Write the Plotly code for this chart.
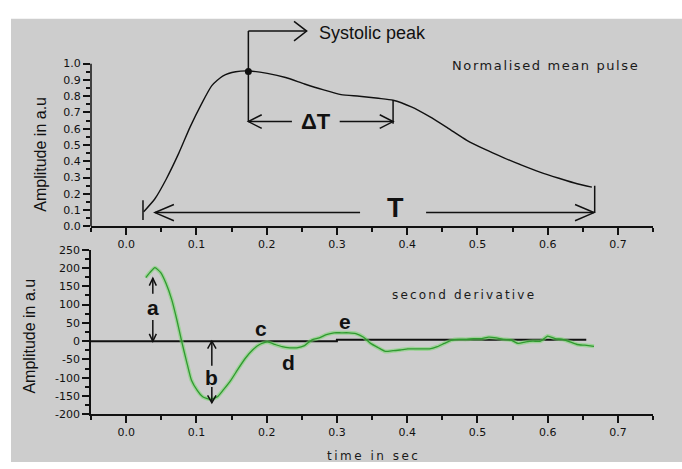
import plotly.graph_objects as go

W, H = 682, 469

# ---------------- data ----------------
pulse_time = [0.025, 0.041, 0.057, 0.075, 0.091, 0.107, 0.122, 0.138, 0.156, 0.175,
              0.201, 0.227, 0.254, 0.280, 0.306, 0.332, 0.359, 0.380, 0.406, 0.432,
              0.458, 0.485, 0.511, 0.537, 0.563, 0.590, 0.616, 0.642, 0.663]
pulse_amp = [0.09, 0.17, 0.29, 0.45, 0.61, 0.75, 0.865, 0.925, 0.950, 0.955,
             0.940, 0.915, 0.875, 0.840, 0.810, 0.800, 0.787, 0.775, 0.734, 0.674,
             0.604, 0.529, 0.473, 0.423, 0.376, 0.332, 0.296, 0.262, 0.241]
peak_time = [0.174]
peak_amp = [0.952]

deriv_time = [0.028, 0.034, 0.041, 0.049, 0.057, 0.065, 0.072, 0.079, 0.086, 0.093,
              0.101, 0.109, 0.120, 0.130, 0.138, 0.149, 0.159, 0.170, 0.180, 0.190,
              0.201, 0.212, 0.222, 0.233, 0.243, 0.254, 0.264, 0.275, 0.285, 0.296,
              0.306, 0.317, 0.327, 0.338, 0.348, 0.359, 0.369, 0.380, 0.390, 0.401,
              0.411, 0.422, 0.432, 0.443, 0.453, 0.464, 0.474, 0.485, 0.495, 0.506,
              0.516, 0.527, 0.537, 0.548, 0.558, 0.569, 0.579, 0.590, 0.600, 0.611,
              0.621, 0.632, 0.642, 0.653, 0.666]
deriv_amp = [174, 188, 201, 188, 157, 113, 60, 0, -55, -107,
             -134, -152, -159, -152, -134, -107, -77, -46, -24, -9,
             -2, -9, -15, -18, -18, -12, 3, 9, 18, 23,
             23, 23, 21, 11, -6, -18, -28, -26, -24, -21,
             -21, -21, -21, -15, -6, 3, 5, 5, 7, 7,
             11, 9, 5, 3, -6, -2, 0, 0, 14, 7,
             5, -2, -9, -11, -14]

baseline_time = [-0.05, 0.30, 0.30, 0.655]
baseline_amp = [0, 0, 4, 4]

x_ticks = [0.0, 0.1, 0.2, 0.3, 0.4, 0.5, 0.6, 0.7]
x_tick_labels = ["0.0", "0.1", "0.2", "0.3", "0.4", "0.5", "0.6", "0.7"]
x_minor = [-0.05, 0.05, 0.15, 0.25, 0.35, 0.45, 0.55, 0.65, 0.75]
top_y_ticks = [0.0, 0.1, 0.2, 0.3, 0.4, 0.5, 0.6, 0.7, 0.8, 0.9, 1.0]
top_y_labels = ["0.0", "0.1", "0.2", "0.3", "0.4", "0.5", "0.6", "0.7", "0.8", "0.9", "1.0"]
top_y_minor = [0.05, 0.15, 0.25, 0.35, 0.45, 0.55, 0.65, 0.75, 0.85, 0.95]
bot_y_ticks = [-200, -150, -100, -50, 0, 50, 100, 150, 200, 250]
bot_y_labels = ["-200", "-150", "-100", "-50", "0", "50", "100", "150", "200", "250"]
bot_y_minor = [-175, -125, -75, -25, 25, 75, 125, 175, 225]

# ---------------- layout geometry ----------------
X_RANGE = [-0.05, 0.75]
TOP_RANGE = [0, 1.28]
BOT_RANGE = [-200, 250]
X_DOM = [91 / W, 653 / W]
TOP_DOM = [1 - 226.7 / H, 1 - 12.4 / H]
BOT_DOM = [1 - 420 / H, 1 - 250.7 / H]

BG = "#cdcdcd"
INK = "#111111"
TICKFONT = dict(family="DejaVu Sans", size=11, color="#111111")

fig = go.Figure()

fig.add_trace(go.Scatter(x=pulse_time, y=pulse_amp, mode="lines",
                         line=dict(color=INK, width=1.4, shape="spline", smoothing=0.6),
                         xaxis="x", yaxis="y", hoverinfo="skip", showlegend=False))
fig.add_trace(go.Scatter(x=peak_time, y=peak_amp, mode="markers",
                         marker=dict(color=INK, size=7),
                         xaxis="x", yaxis="y", hoverinfo="skip", showlegend=False))
fig.add_trace(go.Scatter(x=baseline_time, y=baseline_amp, mode="lines",
                         line=dict(color=INK, width=2),
                         xaxis="x2", yaxis="y2", hoverinfo="skip", showlegend=False))
fig.add_trace(go.Scatter(x=deriv_time, y=deriv_amp, mode="lines",
                         line=dict(color="rgba(120,215,110,0.55)", width=4,
                                   shape="spline", smoothing=0.5),
                         xaxis="x2", yaxis="y2", hoverinfo="skip", showlegend=False))
fig.add_trace(go.Scatter(x=deriv_time, y=deriv_amp, mode="lines",
                         line=dict(color="#2f9a2f", width=1.3, shape="spline", smoothing=0.5),
                         xaxis="x2", yaxis="y2", hoverinfo="skip", showlegend=False))

shapes = []


def seg(x0, y0, x1, y1, ax="", width=1.5):
    shapes.append(dict(type="line", xref="x" + ax, yref="y" + ax,
                       x0=x0, y0=y0, x1=x1, y1=y1,
                       line=dict(color=INK, width=width), layer="above"))


def hhead(xt, yt, dx, dy, ax=""):
    # open horizontal 'V' arrow head: tip at (xt,yt)
    shapes.append(dict(type="path", xref="x" + ax, yref="y" + ax,
                       path=f"M {xt+dx},{yt+dy} L {xt},{yt} L {xt+dx},{yt-dy}",
                       line=dict(color=INK, width=1.5), layer="above"))


def vhead(xt, yt, dx, dy, ax=""):
    # open vertical 'V' arrow head: tip at (xt,yt)
    shapes.append(dict(type="path", xref="x" + ax, yref="y" + ax,
                       path=f"M {xt-dx},{yt+dy} L {xt},{yt} L {xt+dx},{yt+dy}",
                       line=dict(color=INK, width=1.5), layer="above"))


# background panel
shapes.append(dict(type="rect", xref="paper", yref="paper", x0=11 / W, x1=1.0,
                   y0=0, y1=1 - 13 / H, fillcolor=BG, line=dict(width=0), layer="below"))
# top y axis line (only 0 .. 1.0)
shapes.append(dict(type="line", xref="paper", yref="y", x0=X_DOM[0], x1=X_DOM[0],
                   y0=0, y1=1.0, line=dict(color=INK, width=1.5), layer="above"))

# --- T arrow
seg(0.024, 0.04, 0.024, 0.16)
seg(0.667, 0.085, 0.667, 0.25)
seg(0.041, 0.085, 0.333, 0.085)
seg(0.427, 0.085, 0.666, 0.085)
hhead(0.041, 0.085, 0.027, 0.05)
hhead(0.666, 0.085, -0.027, 0.05)
# --- Delta T arrow
seg(0.174, 0.644, 0.174, 1.20)
seg(0.380, 0.630, 0.380, 0.775)
seg(0.174, 0.644, 0.236, 0.644)
seg(0.304, 0.644, 0.380, 0.644)
hhead(0.174, 0.644, 0.019, 0.042)
hhead(0.380, 0.644, -0.019, 0.042)
# --- systolic peak pointer
seg(0.174, 1.20, 0.257, 1.20)
hhead(0.257, 1.20, -0.018, 0.06)

# --- a / b arrows (bottom)
seg(0.038, 130, 0.038, 172, ax="2")
vhead(0.038, 172, 0.005, -20, ax="2")
seg(0.038, 58, 0.038, 0, ax="2")
vhead(0.038, 0, 0.005, 20, ax="2")
seg(0.122, -67, 0.122, 0, ax="2")
vhead(0.122, 0, 0.006, -20, ax="2")
seg(0.122, -125, 0.122, -168, ax="2")
vhead(0.122, -168, 0.006, 20, ax="2")

annotations = []


def label(text, x, y, ax="", size=14, family="Liberation Sans", xanchor="center",
          angle=0, xref=None, yref=None, color=INK):
    annotations.append(dict(text=text, x=x, y=y, xref=xref or ("x" + ax),
                            yref=yref or ("y" + ax), showarrow=False,
                            xanchor=xanchor, yanchor="middle", textangle=angle,
                            font=dict(family=family, size=size, color=color)))


label("Systolic peak", 0.271, 1.19, size=18, xanchor="left")
label("<span style='letter-spacing:1.6px'>Normalised mean pulse</span>",
      0.461, 0.99, size=13, family="DejaVu Sans", xanchor="left", color="#1a1a1a")
label("<b>ΔT</b>", 0.270, 0.644, size=22)
label("<b>T</b>", 0.383, 0.115, size=27)

label("<span style='letter-spacing:2.2px'>second derivative</span>",
      0.3755, 127, ax="2", size=12, family="DejaVu Sans", xanchor="left", color="#1a1a1a")
label("<b>a</b>", 0.038, 92, ax="2", size=21)
label("<b>b</b>", 0.122, -98, ax="2", size=21)
label("<b>c</b>", 0.192, 36, ax="2", size=21)
label("<b>d</b>", 0.231, -58, ax="2", size=21)
label("<b>e</b>", 0.312, 53, ax="2", size=21)

label("Amplitude in a.u", 41 / W, 1 - 153 / H, xref="paper", yref="paper",
      size=16, angle=-90)
label("Amplitude in a.u", 30 / W, 1 - 340 / H, xref="paper", yref="paper",
      size=16, angle=-90)
label("<span style='letter-spacing:2.5px'>time in sec</span>", 373 / W, 1 - 463 / H,
      xref="paper", yref="paper", size=12, family="DejaVu Sans", color="#1a1a1a")

axis_common = dict(showgrid=False, zeroline=False, ticks="outside", ticklen=7,
                   tickwidth=1.5, tickcolor=INK, linecolor=INK, linewidth=1.5,
                   tickfont=TICKFONT)
minor_common = dict(ticks="outside", ticklen=4, tickwidth=1.5, tickcolor=INK, showgrid=False)

fig.update_layout(
    width=W, height=H, autosize=False,
    margin=dict(l=0, r=0, t=0, b=0, pad=0),
    paper_bgcolor="white", plot_bgcolor="rgba(0,0,0,0)",
    showlegend=False,
    xaxis=dict(domain=X_DOM, range=X_RANGE, anchor="y", showline=True,
               tickmode="array", tickvals=x_ticks, ticktext=x_tick_labels,
               minor=dict(tickvals=x_minor, **minor_common), **axis_common),
    yaxis=dict(domain=TOP_DOM, range=TOP_RANGE, anchor="x", showline=False,
               tickmode="array", tickvals=top_y_ticks, ticktext=top_y_labels,
               minor=dict(tickvals=top_y_minor, **minor_common), **axis_common),
    xaxis2=dict(domain=X_DOM, range=X_RANGE, anchor="y2", showline=True,
                tickmode="array", tickvals=x_ticks, ticktext=x_tick_labels,
                minor=dict(tickvals=x_minor, **minor_common), **axis_common),
    yaxis2=dict(domain=BOT_DOM, range=BOT_RANGE, anchor="x2", showline=True,
                tickmode="array", tickvals=bot_y_ticks, ticktext=bot_y_labels,
                minor=dict(tickvals=bot_y_minor, **minor_common), **axis_common),
    shapes=shapes,
    annotations=annotations,
)

fig.write_html("out.html")
